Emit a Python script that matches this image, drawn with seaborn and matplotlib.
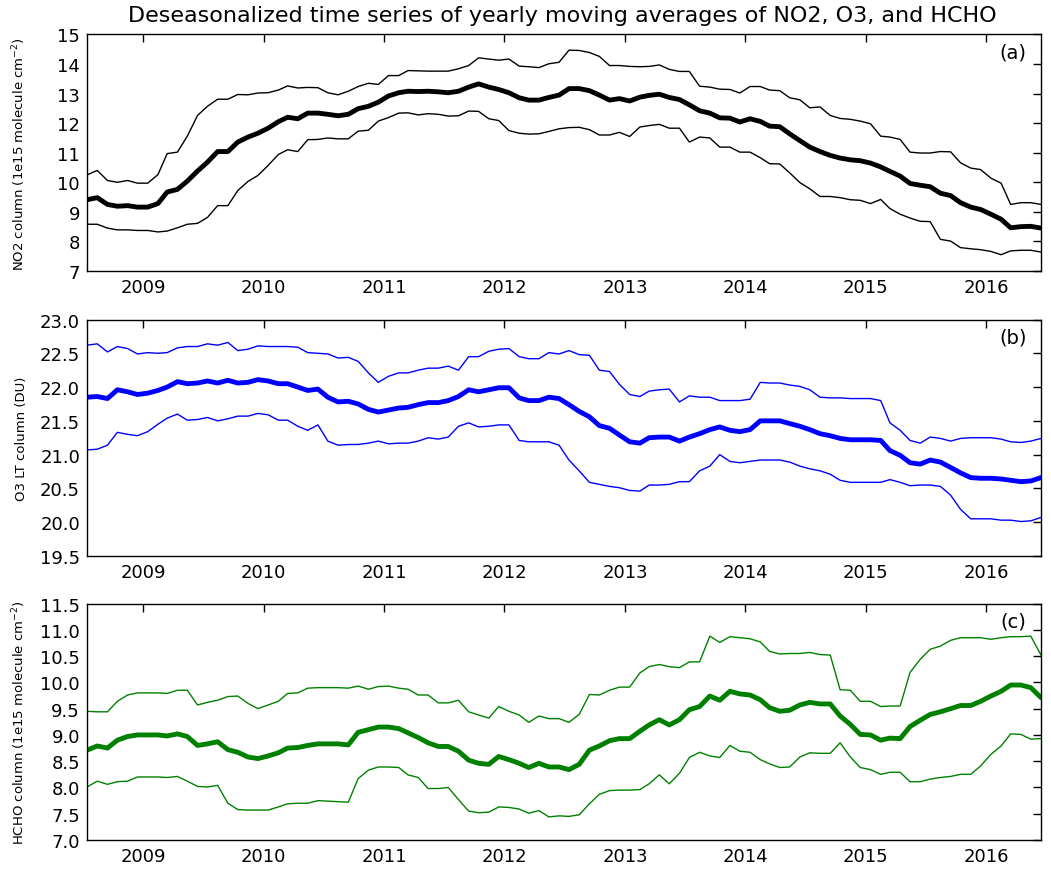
import numpy as np
import pandas as pd
import matplotlib
matplotlib.use("Agg")
import matplotlib.pyplot as plt
import matplotlib.dates as mdates
import seaborn as sns

# monthly points, mid-month, Jul 2008 .. Jun 2016
dates = pd.date_range("2008-07-01", periods=96, freq="MS") + pd.Timedelta(days=14)

no2_mean = [9.41, 9.48, 9.25, 9.19, 9.21, 9.16, 9.16, 9.28, 9.67, 9.76, 10.04, 10.38, 10.68, 11.04, 11.04, 11.36,
            11.53, 11.66, 11.83, 12.05, 12.2, 12.15, 12.34, 12.34, 12.3, 12.25, 12.3, 12.49, 12.57, 12.71, 12.92, 13.03,
            13.08, 13.07, 13.08, 13.06, 13.03, 13.08, 13.22, 13.33, 13.22, 13.14, 13.03, 12.86, 12.78, 12.78, 12.87, 12.95,
            13.17, 13.17, 13.1, 12.95, 12.78, 12.83, 12.75, 12.88, 12.94, 12.98, 12.87, 12.8, 12.62, 12.42, 12.34, 12.18,
            12.17, 12.04, 12.15, 12.06, 11.9, 11.88, 11.64, 11.41, 11.19, 11.04, 10.91, 10.82, 10.76, 10.73, 10.65, 10.52,
            10.37, 10.21, 9.96, 9.9, 9.85, 9.63, 9.55, 9.31, 9.16, 9.08, 8.92, 8.75, 8.46, 8.5, 8.51, 8.45]
no2_upper = [10.25, 10.4, 10.06, 10.0, 10.06, 9.97, 9.97, 10.26, 10.97, 11.02, 11.56, 12.26, 12.57, 12.81, 12.81, 12.97,
             12.96, 13.02, 13.03, 13.12, 13.26, 13.19, 13.21, 13.2, 13.03, 12.96, 13.08, 13.24, 13.35, 13.31, 13.61, 13.61,
             13.78, 13.77, 13.76, 13.76, 13.76, 13.84, 13.95, 14.21, 14.17, 14.13, 14.17, 13.93, 13.91, 13.88, 14.01, 14.06,
             14.47, 14.46, 14.39, 14.26, 13.95, 13.95, 13.92, 13.91, 13.92, 13.97, 13.82, 13.75, 13.75, 13.25, 13.22, 13.15,
             13.14, 13.02, 13.24, 13.24, 13.12, 13.1, 12.86, 12.79, 12.52, 12.55, 12.26, 12.16, 12.13, 12.07, 11.98, 11.56,
             11.53, 11.45, 11.02, 10.99, 10.99, 11.04, 11.03, 10.66, 10.48, 10.43, 10.14, 9.97, 9.25, 9.31, 9.31, 9.25]
no2_lower = [8.58, 8.58, 8.45, 8.39, 8.39, 8.37, 8.37, 8.32, 8.35, 8.46, 8.58, 8.61, 8.81, 9.21, 9.21, 9.72,
             10.03, 10.23, 10.57, 10.94, 11.1, 11.04, 11.44, 11.45, 11.5, 11.47, 11.47, 11.73, 11.76, 12.07, 12.19, 12.34,
             12.35, 12.28, 12.32, 12.3, 12.24, 12.25, 12.41, 12.4, 12.15, 12.09, 11.75, 11.66, 11.63, 11.64, 11.72, 11.81,
             11.85, 11.86, 11.78, 11.6, 11.6, 11.69, 11.55, 11.87, 11.92, 11.96, 11.83, 11.83, 11.36, 11.53, 11.5, 11.19,
             11.19, 11.02, 11.02, 10.83, 10.63, 10.62, 10.32, 9.99, 9.78, 9.52, 9.52, 9.48, 9.41, 9.39, 9.28, 9.42,
             9.11, 8.92, 8.79, 8.68, 8.67, 8.07, 8.01, 7.79, 7.75, 7.72, 7.66, 7.55, 7.68, 7.7, 7.7, 7.64]

o3_mean = [21.85, 21.86, 21.83, 21.96, 21.93, 21.89, 21.91, 21.95, 22.0, 22.08, 22.05, 22.06, 22.09, 22.06, 22.1, 22.06,
           22.07, 22.11, 22.09, 22.05, 22.05, 22.0, 21.95, 21.97, 21.85, 21.78, 21.79, 21.75, 21.67, 21.63, 21.66, 21.69,
           21.7, 21.74, 21.77, 21.77, 21.8, 21.86, 21.96, 21.93, 21.96, 21.99, 21.99, 21.84, 21.8, 21.8, 21.85, 21.83,
           21.74, 21.64, 21.56, 21.43, 21.39, 21.29, 21.19, 21.17, 21.25, 21.26, 21.26, 21.2, 21.26, 21.31, 21.37, 21.41,
           21.36, 21.34, 21.37, 21.5, 21.5, 21.5, 21.46, 21.42, 21.37, 21.31, 21.28, 21.24, 21.22, 21.22, 21.22, 21.21,
           21.06, 20.99, 20.88, 20.86, 20.92, 20.89, 20.81, 20.73, 20.66, 20.65, 20.65, 20.64, 20.62, 20.6, 20.61, 20.66]
o3_upper = [22.62, 22.64, 22.52, 22.6, 22.57, 22.49, 22.51, 22.5, 22.51, 22.58, 22.6, 22.6, 22.64, 22.62, 22.66, 22.54,
            22.56, 22.61, 22.6, 22.6, 22.6, 22.59, 22.51, 22.5, 22.49, 22.43, 22.44, 22.38, 22.21, 22.07, 22.16, 22.21,
            22.21, 22.25, 22.28, 22.28, 22.31, 22.25, 22.45, 22.45, 22.53, 22.56, 22.57, 22.45, 22.42, 22.42, 22.51, 22.49,
            22.54, 22.48, 22.47, 22.25, 22.23, 22.04, 21.89, 21.86, 21.94, 21.96, 21.97, 21.78, 21.87, 21.85, 21.85, 21.8,
            21.8, 21.8, 21.82, 22.07, 22.06, 22.06, 22.03, 22.01, 21.96, 21.85, 21.84, 21.84, 21.83, 21.83, 21.83, 21.8,
            21.47, 21.36, 21.21, 21.17, 21.26, 21.24, 21.2, 21.24, 21.25, 21.25, 21.25, 21.23, 21.19, 21.18, 21.2, 21.24]
o3_lower = [21.07, 21.08, 21.14, 21.33, 21.3, 21.28, 21.34, 21.45, 21.54, 21.6, 21.51, 21.52, 21.55, 21.5, 21.53, 21.57,
            21.57, 21.61, 21.59, 21.51, 21.51, 21.42, 21.36, 21.44, 21.2, 21.14, 21.15, 21.15, 21.17, 21.2, 21.16, 21.17,
            21.17, 21.2, 21.25, 21.23, 21.26, 21.42, 21.47, 21.41, 21.42, 21.44, 21.44, 21.21, 21.19, 21.19, 21.19, 21.14,
            20.92, 20.76, 20.59, 20.56, 20.53, 20.51, 20.47, 20.46, 20.55, 20.55, 20.56, 20.6, 20.6, 20.76, 20.83, 21.0,
            20.9, 20.88, 20.9, 20.92, 20.92, 20.92, 20.89, 20.83, 20.79, 20.76, 20.71, 20.62, 20.59, 20.59, 20.59, 20.59,
            20.63, 20.59, 20.54, 20.55, 20.55, 20.53, 20.4, 20.19, 20.05, 20.05, 20.05, 20.03, 20.03, 20.01, 20.02, 20.07]

hcho_mean = [8.71, 8.79, 8.75, 8.9, 8.97, 9.0, 9.0, 9.0, 8.98, 9.02, 8.97, 8.8, 8.83, 8.87, 8.72, 8.67,
             8.58, 8.55, 8.6, 8.66, 8.75, 8.76, 8.8, 8.83, 8.83, 8.83, 8.81, 9.05, 9.1, 9.15, 9.15, 9.12,
             9.04, 8.95, 8.85, 8.78, 8.78, 8.69, 8.52, 8.46, 8.44, 8.59, 8.53, 8.46, 8.38, 8.46, 8.39, 8.39,
             8.34, 8.44, 8.71, 8.79, 8.89, 8.93, 8.93, 9.07, 9.19, 9.29, 9.19, 9.29, 9.48, 9.54, 9.74, 9.66,
             9.83, 9.78, 9.76, 9.67, 9.52, 9.45, 9.47, 9.57, 9.62, 9.59, 9.59, 9.36, 9.2, 9.01, 9.0, 8.9,
             8.94, 8.93, 9.16, 9.28, 9.39, 9.44, 9.5, 9.56, 9.56, 9.64, 9.74, 9.83, 9.95, 9.95, 9.9, 9.71]
hcho_upper = [9.45, 9.44, 9.44, 9.64, 9.76, 9.8, 9.8, 9.8, 9.79, 9.85, 9.85, 9.57, 9.62, 9.66, 9.73, 9.74,
              9.6, 9.5, 9.57, 9.64, 9.79, 9.8, 9.89, 9.9, 9.9, 9.9, 9.89, 9.93, 9.87, 9.92, 9.93, 9.89,
              9.87, 9.76, 9.76, 9.61, 9.61, 9.66, 9.44, 9.38, 9.32, 9.54, 9.45, 9.38, 9.24, 9.36, 9.31, 9.31,
              9.24, 9.39, 9.77, 9.76, 9.85, 9.91, 9.91, 10.18, 10.3, 10.34, 10.3, 10.28, 10.39, 10.39, 10.88, 10.76,
              10.87, 10.85, 10.83, 10.77, 10.59, 10.54, 10.55, 10.55, 10.57, 10.53, 10.52, 9.86, 9.85, 9.64, 9.64, 9.54,
              9.55, 9.55, 10.19, 10.44, 10.63, 10.69, 10.8, 10.85, 10.85, 10.85, 10.82, 10.85, 10.87, 10.87, 10.88, 10.52]
hcho_lower = [8.01, 8.12, 8.06, 8.11, 8.12, 8.2, 8.2, 8.2, 8.19, 8.21, 8.12, 8.02, 8.01, 8.04, 7.7, 7.58,
              7.57, 7.57, 7.57, 7.63, 7.69, 7.7, 7.7, 7.75, 7.74, 7.73, 7.72, 8.17, 8.33, 8.39, 8.39, 8.38,
              8.24, 8.19, 7.98, 7.98, 8.0, 7.77, 7.55, 7.52, 7.53, 7.63, 7.62, 7.59, 7.51, 7.56, 7.44, 7.46,
              7.45, 7.48, 7.69, 7.87, 7.94, 7.95, 7.95, 7.96, 8.07, 8.24, 8.07, 8.27, 8.57, 8.67, 8.6, 8.57,
              8.8, 8.69, 8.67, 8.53, 8.45, 8.38, 8.39, 8.58, 8.66, 8.65, 8.65, 8.85, 8.58, 8.38, 8.34, 8.25,
              8.29, 8.29, 8.11, 8.11, 8.16, 8.19, 8.21, 8.25, 8.25, 8.41, 8.63, 8.79, 9.02, 9.01, 8.92, 8.93]

panels = [
    ("k", no2_lower, no2_mean, no2_upper, r"NO2 column (1e15 molecule cm$^{-2}$)", (7, 15), 1.0, "(a)"),
    ("b", o3_lower, o3_mean, o3_upper, "O3 LT column (DU)", (19.5, 23.0), 0.5, "(b)"),
    ("g", hcho_lower, hcho_mean, hcho_upper, r"HCHO column (1e15 molecule cm$^{-2}$)", (7.0, 11.5), 0.5, "(c)"),
]

sns.set_style("white")
plt.rcParams["font.family"] = ["DejaVu Sans"]
plt.rcParams.update({
    "xtick.direction": "in", "ytick.direction": "in",
    "text.color": "black", "axes.labelcolor": "black",
    "xtick.color": "black", "ytick.color": "black",
    "axes.edgecolor": "black",
})

fig = plt.figure(figsize=(10.51, 8.7), dpi=100)
bottoms = [0.6874, 0.3598, 0.0333]

for (color, lo, mid, hi, ylab, ylim, step, tag), b in zip(panels, bottoms):
    ax = fig.add_axes([0.0828, b, 0.9077, 0.2718])
    sns.lineplot(x=dates, y=hi, ax=ax, color=color, linewidth=1.0)
    sns.lineplot(x=dates, y=lo, ax=ax, color=color, linewidth=1.0)
    sns.lineplot(x=dates, y=mid, ax=ax, color=color, linewidth=3.5)
    ax.set_xlim(dates[0], dates[-1])
    ax.set_ylim(*ylim)
    ax.set_yticks(np.arange(ylim[0], ylim[1] + step / 2, step))
    if step < 1:
        ax.yaxis.set_major_formatter(plt.FormatStrFormatter("%.1f"))
    ax.xaxis.set_major_locator(mdates.YearLocator())
    ax.xaxis.set_major_formatter(mdates.DateFormatter("%Y"))
    ax.tick_params(axis="both", labelsize=13, length=6, width=1, top=True, right=True, pad=5)
    ax.set_xlabel("")
    ax.set_ylabel(ylab, fontsize=9.5)
    ax.yaxis.set_label_coords(-0.062, 0.5)
    for sp in ax.spines.values():
        sp.set_linewidth(1.0)
    ax.text(0.985, 0.965, tag, transform=ax.transAxes, ha="right", va="top", fontsize=14)

fig.text(0.535, 0.982, "Deseasonalized time series of yearly moving averages of NO2, O3, and HCHO",
         ha="center", va="center", fontsize=16)

fig.savefig("out.png", dpi=100)
